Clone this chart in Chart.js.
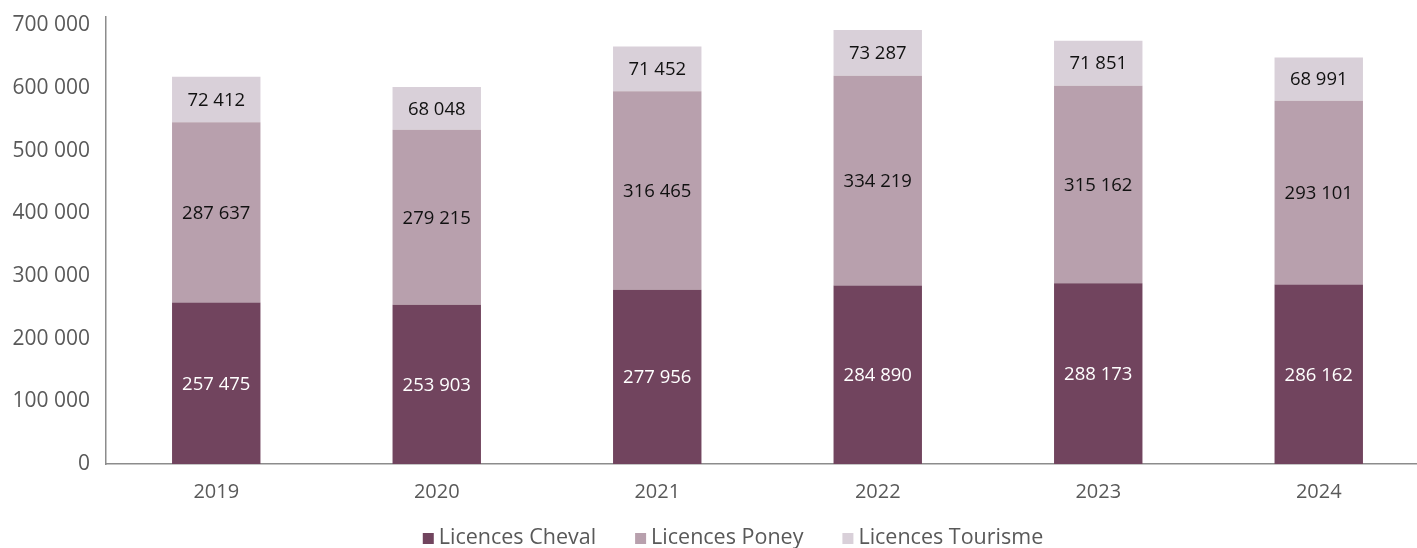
<!DOCTYPE html>
<html>
<head>
<meta charset="utf-8">
<script src="https://cdn.jsdelivr.net/npm/chart.js@4.4.1/dist/chart.umd.min.js"></script>
<style>
html,body{margin:0;padding:0;background:#fff;overflow:hidden;}
#wrap{position:relative;width:1466px;height:548px;}
</style>
</head>
<body>
<div id="wrap"><canvas id="c"></canvas></div>
<script>
const years = ['2019','2020','2021','2022','2023','2024'];
const cheval = [257475, 253903, 277956, 284890, 288173, 286162];
const poney = [287637, 279215, 316465, 334219, 315162, 293101];
const tourisme = [72412, 68048, 71452, 73287, 71851, 68991];
const yTicks = [0, 100000, 200000, 300000, 400000, 500000, 600000, 700000];

const FONT = "'Open Sans'";

function fmt(v){ return String(Math.round(v)).replace(/\B(?=(\d{3})+(?!\d))/g, ' '); }

const labelPlugin = {
  id: 'segLabels',
  afterDatasetsDraw(chart){
    const ctx = chart.ctx;
    ctx.save();
    ctx.font = '18.5px ' + FONT;
    ctx.textAlign = 'center';
    ctx.textBaseline = 'middle';
    chart.data.datasets.forEach((ds, i) => {
      const meta = chart.getDatasetMeta(i);
      meta.data.forEach((el, j) => {
        const p = el.getProps(['x','y','base'], true);
        ctx.fillStyle = ds.labelColor;
        ctx.fillText(fmt(ds.data[j]), p.x, (p.y + p.base) / 2 + 1);
      });
    });
    ctx.restore();
  }
};

const legendPlugin = {
  id: 'customLegend',
  afterDraw(chart){
    const ctx = chart.ctx;
    const box = 11, gapBoxText = 5, gapItems = 39;
    const yText = 538;
    ctx.save();
    ctx.font = '21.5px ' + FONT;
    ctx.textBaseline = 'middle';
    ctx.textAlign = 'left';
    const items = chart.data.datasets.map(ds => ({ text: ds.label, color: ds.backgroundColor, w: ctx.measureText(ds.label).width }));
    let total = 0;
    items.forEach((it, i) => { total += box + gapBoxText + it.w + (i < items.length - 1 ? gapItems : 0); });
    let x = chart.width / 2 - total / 2;
    items.forEach(it => {
      ctx.fillStyle = it.color;
      ctx.fillRect(x, yText - box / 2 + 0.5, box, box);
      x += box + gapBoxText;
      ctx.fillStyle = '#595959';
      ctx.fillText(it.text, x, yText);
      x += it.w + gapItems;
    });
    ctx.restore();
  }
};

new Chart(document.getElementById('c'), {
  type: 'bar',
  data: {
    labels: years,
    datasets: [
      {label: 'Licences Cheval', data: cheval, backgroundColor: '#71445e', labelColor: '#ffffff'},
      {label: 'Licences Poney', data: poney, backgroundColor: '#b8a0ad', labelColor: '#111111'},
      {label: 'Licences Tourisme', data: tourisme, backgroundColor: '#d9d0d9', labelColor: '#111111'}
    ]
  },
  options: {
    responsive: true,
    maintainAspectRatio: false,
    animation: false,
    datasets: { bar: { barPercentage: 0.401, categoryPercentage: 1.0 } },
    layout: { padding: { left: 12, right: 37, top: 17, bottom: 28 } },
    plugins: {
      tooltip: { enabled: false },
      legend: { display: false }
    },
    scales: {
      x: {
        stacked: true,
        grid: { display: false, drawTicks: false },
        border: { display: true, color: '#8c8c8c', width: 1.5 },
        afterFit: axis => { axis.paddingLeft = 0; axis.paddingRight = 0; },
        ticks: { font: { family: 'Open Sans', size: 20 }, color: '#595959', padding: 16 }
      },
      y: {
        stacked: true,
        min: 0,
        max: 713000,
        grid: { display: false, drawTicks: false },
        border: { display: true, color: '#8c8c8c', width: 1.5 },
        afterBuildTicks: axis => { axis.ticks = yTicks.map(v => ({ value: v })); },
        afterFit: axis => { axis.width = 94; axis.paddingTop = 0; axis.paddingBottom = 0; },
        ticks: {
          font: { family: 'Open Sans', size: 21 },
          color: '#595959',
          padding: 16,
          callback: v => fmt(v)
        }
      }
    }
  },
  plugins: [labelPlugin, legendPlugin]
});
</script>
</body>
</html>
